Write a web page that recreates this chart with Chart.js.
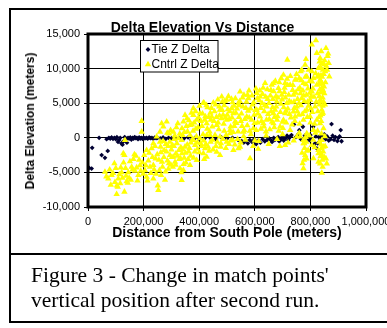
<!DOCTYPE html>
<html><head><meta charset="utf-8">
<script src="https://cdn.jsdelivr.net/npm/chart.js@4.4.0/dist/chart.umd.min.js"></script>
<style>
html,body{margin:0;padding:0;background:#fff;width:387px;height:328px;overflow:hidden;position:relative;}
#frame{position:absolute;left:9px;top:8px;width:400px;height:315px;border:2px solid #000;box-sizing:border-box;}
#divider{position:absolute;left:9px;top:253px;width:400px;height:2px;background:#000;}
#wrap{position:absolute;left:0;top:0;width:420px;height:254px;}
.t{position:absolute;font-family:"Liberation Sans",Arial,sans-serif;font-weight:bold;color:#000;line-height:1;white-space:nowrap;transform:translate(-50%,-50%);}
#title{left:202.5px;top:26.5px;font-size:14px;}
#xtitle{left:227px;top:232px;font-size:14px;}
#ytitle{left:30px;top:120.5px;font-size:12px;transform:translate(-50%,-50%) rotate(-90deg);}
.cap{position:absolute;left:31px;font-family:"Liberation Serif","Times New Roman",serif;font-size:21.5px;line-height:25px;white-space:nowrap;color:#000;}
</style></head><body>
<div id="frame"></div><div id="divider"></div>
<div id="wrap"><canvas id="c" width="420" height="254"></canvas></div>
<div class="t" id="title">Delta Elevation Vs Distance</div>
<div class="t" id="xtitle">Distance from South Pole (meters)</div>
<div class="t" id="ytitle">Delta Elevation (meters)</div>
<div class="cap" style="top:263px">Figure 3 - Change in match points'</div>
<div class="cap" style="top:288px">vertical position after second run.</div>
<script>
const seriesNames = ['Tie Z Delta', 'Cntrl Z Delta'];
const xMin = 0, xMax = 1000000, xStep = 200000;
const yMin = -10000, yMax = 15000, yStep = 5000;

const tieX = [4000,13000,15000,40000,49000,61000,71000,67000,75000,80000,85000,90000,95000,100000,104000,108000,112000,116000,120000,124000,128000,132000,136000,140000,144000,148000,152000,156000,160000,164000,168000,172000,176000,180000,184000,188000,192000,196000,200000,205000,210000,215000,220000,225000,230000,235000,240000,245000,250000,260000,270000,280000,290000,300000,315000,330000,345000,360000,372000,385000,400000,420000,440000,460000,480000,500000,520000,540000,553000,560000,568000,575000,582000,590000,598000,605000,612000,620000,628000,636000,644000,652000,660000,662000,668000,672000,676000,684000,688000,692000,696000,700000,704000,708000,712000,716000,720000,724000,728000,732000,741000,748000,756000,760000,766000,773000,780000,788000,796000,800000,805000,810000,811000,817000,820000,823000,826000,830000,835000,840000,845000,850000,855000,860000,866000,873000,876000,880000,885000,890000,897000,901000,905000,909000,912000];
const tieY = [-4350,-4450,-1450,0,-2500,-2900,-1900,-200,0,-100,50,-150,0,-200,80,-600,-300,0,-800,-1000,-500,100,-200,-700,0,-100,50,-250,0,-100,100,-50,0,-200,50,-100,0,-150,30,-80,0,-120,40,-60,0,-150,20,-50,0,-100,50,-150,0,-80,-200,0,-100,50,-300,0,-150,-50,0,-200,50,-100,0,-300,-500,-700,-400,-800,-300,-600,-200,-900,-400,-700,-200,-500,-300,-100,-400,-600,0,-300,-200,100,-500,-300,-100,200,-400,-100,100,300,-300,0,200,400,1940,100,500,1100,-200,1600,300,-100,-330,400,-200,1600,-1060,-800,200,-1540,-800,100,-300,300,0,500,-200,200,-400,-200,1990,300,-300,100,-480,0,200,1120,-500];

const cntrlX = [61000,66000,73000,85000,95000,97000,103000,107000,109000,121000,127000,131000,131000,133000,139000,143000,145000,157000,167000,169000,172000,181000,187000,193000,193000,199000,205000,211000,211000,217000,223000,229000,235000,235000,235000,243000,247000,251000,253000,255000,259000,259000,262000,263000,265000,268000,271000,274000,277000,280000,283000,286000,289000,292000,295000,298000,300000,303000,307000,307000,310000,313000,316000,318000,323000,325000,328000,331000,334000,337000,337000,338000,338000,340000,343000,343000,346000,349000,349000,352000,356000,358000,362000,367000,367000,367000,370000,374000,379000,379000,379000,380000,385000,388000,391000,391000,394000,398000,403000,403000,405000,410000,415000,415000,418000,418000,421000,422000,427000,427000,427000,430000,436000,439000,440000,442000,445000,448000,451000,455000,460000,463000,463000,468000,472000,475000,475000,475000,478000,481000,484000,486000,490000,490000,496000,499000,499000,499000,503000,508000,511000,511000,514000,517000,520000,520000,523000,523000,526000,529000,532000,538000,541000,541000,544000,547000,547000,550000,556000,559000,560000,562000,568000,571000,574000,577000,580000,583000,586000,592000,595000,598000,600000,604000,607000,607000,610000,612000,616000,619000,619000,622000,628000,631000,634000,637000,640000,641000,643000,646000,650000,652000,658000,661000,664000,667000,667000,667000,670000,673000,676000,679000,680000,682000,685000,688000,690000,691000,694000,697000,700000,700000,703000,703000,706000,709000,709000,709000,712000,715000,717000,718000,720000,724000,727000,727000,730000,736000,739000,739000,740000,742000,745000,745000,748000,751000,751000,754000,758000,760000,760000,762000,763000,765000,766000,769000,769000,775000,775000,775000,775000,775000,776000,777000,779000,780000,781000,781000,783000,784000,784000,785000,787000,787000,787000,787000,790000,792000,794000,796000,798000,799000,799000,802000,805000,805000,805000,805000,806000,811000,811000,811000,817000,820000,823000,823000,823000,829000,829000,829000,829000,830000,831000,832000,833000,834000,835000,835000,835000,835000,835000,836000,836000,836000,837000,838000,838000,838000,839000,840000,840000,841000,841000,841000,841000,841000,841000,842000,843000,843000,844000,844000,845000,845000,846000,847000,847000,847000,848000,849000,850000,851000,853000,856000,859000,864000,868000,
78000,82000,90000,100000,104000,113000,116000,118000,124000,128000,135000,137000,148000,151000,154000,160000,163000,175000,178000,184000,190000,196000,202000,208000,214000,220000,226000,232000,238000,241000,245000,249000,257000,261000,266000,270000,273000,279000,282000,285000,288000,291000,294000,297000,302000,305000,309000,312000,315000,320000,322000,327000,330000,333000,336000,341000,344000,347000,351000,354000,357000,360000,
363000,365000,369000,372000,376000,378000,382000,384000,387000,390000,393000,396000,400000,401000,406000,408000,412000,414000,416000,420000,424000,426000,429000,432000,434000,437000,441000,444000,447000,450000,453000,457000,459000,462000,465000,467000,470000,473000,477000,480000,483000,485000,488000,492000,494000,497000,501000,505000,507000,510000,513000,516000,518000,522000,525000,528000,530000,534000,536000,540000,543000,546000,549000,552000,554000,557000,561000,564000,566000,570000,573000,576000,579000,582000,585000,588000,590000,594000,596000,599000,602000,605000,609000,611000,614000,618000,621000,624000,626000,630000,633000,636000,639000,642000,645000,648000,651000,654000,656000,659000,662000,665000,668000,671000,674000,677000,680000,683000,686000,689000,692000,695000,698000,701000,704000,707000,710000,713000,716000,719000,722000,725000,728000,731000,734000,737000,741000,744000,747000,750000,753000,756000,759000,761000,764000,767000,771000,773000,778000,782000,786000,789000,791000,793000,797000,800000,803000,807000,809000,813000,815000,819000,821000,825000,827000,826000,831000,833000,837000,839000,842000,845000,849000,852000,854000,857000,860000,862000,866000,826000,832000,837000,844000,850000,853000,852000,856000,770000,772000,778000,786000,810000,815000,818000];
const cntrlY = [-4930,-5600,-5900,-5400,-3700,-6400,-8160,-7100,-5900,-5000,-2260,-2500,-7800,-330,-6300,-6500,-5000,-4200,-2400,-4800,-2600,-5400,-4000,2420,870,-5200,-4700,-5650,-1780,-3300,-4200,-1540,-810,-5900,-3960,-3000,150,-6900,-7580,-3200,870,-580,-2100,-5400,2090,-4200,1600,-1780,-6100,-900,2320,-3300,-4500,600,-2500,-3900,-1700,-1060,870,-2750,-200,-3480,-2300,1500,2090,-90,-3100,-4440,-1400,-6130,-330,1360,-2260,400,2320,-4680,-2900,3290,-1300,-3600,2810,900,-2000,1840,390,-3960,-700,1900,3290,4260,-330,-2900,-1060,1300,2570,-3230,-1600,2900,3540,-90,-800,1700,5080,-2260,4990,-3100,-1540,3100,2090,390,-2750,4400,-1900,390,3600,2600,3050,-300,5080,3800,-1200,1840,-2030,2200,4500,4020,150,-2500,-800,5950,5220,3300,1000,4700,-1500,5470,2570,-580,4100,2700,640,1120,-400,4260,5100,-300,3540,-1780,1700,2320,3600,-200,4990,-1540,4700,6670,-1300,2400,5800,870,200,1100,4300,3050,6200,5710,2900,-2990,500,4800,1360,3300,-400,7100,6440,4020,2200,-1600,5400,5950,3050,1300,6300,2090,3800,7900,900,300,4500,5600,-900,2700,6900,7640,4400,3540,2090,7890,1500,4020,6000,5220,-200,3100,7160,8000,-1200,1600,4900,6190,2300,500,9100,2570,6600,7890,3540,-1060,3900,4990,11270,7600,-700,5300,7650,1120,2900,6900,3770,6190,-400,4300,8380,3050,8400,4500,150,5600,3300,8620,700,7200,150,9580,4700,5710,9820,7890,2570,-330,-810,-4440,6100,-3200,-1500,3800,10550,-2500,100,11370,7700,-600,8850,4020,640,-1900,5200,-1800,9800,300,6500,5470,3050,4200,9580,6680,-1060,13450,8100,8620,1120,-2990,4500,14080,12250,7650,2570,10070,-1780,-3480,-2260,9000,3000,6000,4800,7000,11520,8380,5470,2090,-3720,3200,10200,-2700,8200,9000,6600,-1000,2400,600,-1500,10790,7160,4020,-2500,-330,-5080,8800,7800,-3200,5800,4600,3600,9800,-2000,5220,1360,-1300,9200,7400,6400,11180,9580,12960,-3720,12150,8850,
-4600,-6800,-5100,-4400,-6900,-5300,-6600,-4300,-5800,-3600,-4400,-5500,-5800,-3400,-6100,-4600,-3100,-4300,-6200,-3200,-4800,-3600,-2500,-4000,-6200,-2200,-5100,-2800,-4600,-1200,-5200,-2400,-4700,-1300,-3500,-500,-2800,-4900,-2000,700,-1200,-3700,-600,1100,-2800,-4200,-1200,300,-3900,-800,-2600,-1800,600,-3000,-5000,-1700,-3800,800,-2200,1700,-1000,-3100,
2500,-1500,-2600,3600,-200,1000,2200,-2000,3800,200,-700,1500,-2100,4600,2400,-1200,3500,500,-400,2600,-900,4700,1300,-1300,3000,900,-600,4300,1600,-1700,2400,400,4800,3000,-600,5500,1200,3200,-1300,2800,4000,-200,2000,5300,2900,400,3300,6000,-900,3800,1600,5600,2900,800,4600,-1000,5700,2100,4200,900,3000,5300,-700,3500,1700,4500,6200,2700,-300,5200,1800,3900,6800,1000,4200,2600,6100,-1200,5100,2100,4000,1100,5700,3500,-500,6800,4300,2400,5000,7200,1600,4700,5900,2600,7000,3400,5000,1200,6100,3800,2300,5600,6700,3000,8200,4500,2600,5800,1000,6700,3700,8600,5500,1400,4400,7200,5800,2200,8500,4200,6200,3400,8900,5100,1900,7600,5200,2400,6500,9200,3800,7000,5000,2000,6400,8300,3400,6800,5300,8800,6200,3000,7100,4600,8200,2200,6000,3700,7100,5900,2000,9300,5200,8800,3800,6400,7800,11000,5200,12500,3400,6900,10600,4800,8000,10400,9800,11800,10800,1000,-600,-2200,-4200,-2800,-1200,200,-3000,-2200,-3700,-800,-3000,-300,-1400,700];

const toPoints = (xs, ys) => xs.map((x, i) => ({x: x, y: ys[i]}));

const frameAndLegend = {
  id: 'frameAndLegend',
  beforeDraw(chart) {
    const a = chart.chartArea, ctx = chart.ctx;
    ctx.save(); ctx.fillStyle = '#fff';
    ctx.fillRect(a.left, a.top, a.right - a.left, a.bottom - a.top);
    ctx.restore();
  },
  afterDraw(chart) {
    const a = chart.chartArea, ctx = chart.ctx;
    ctx.save();
    ctx.lineWidth = 3; ctx.strokeStyle = '#000';
    ctx.strokeRect(a.left, a.top, a.right - a.left, a.bottom - a.top);
    const lx = 140.5, ly = 40.5, lw = 77.5, lh = 31.5;
    ctx.fillStyle = '#fff'; ctx.fillRect(lx, ly, lw, lh);
    ctx.lineWidth = 1; ctx.strokeRect(lx, ly, lw, lh);
    const ds = chart.data.datasets;
    const rows = [ds[1], ds[0]];
    rows.forEach((d, i) => {
      const cy = ly + 9 + i * 15;
      ctx.fillStyle = d.backgroundColor;
      Chart.helpers.drawPoint(ctx, {pointStyle: d.pointStyle, radius: d.pointRadius, borderWidth: 0, rotation: 0}, lx + 7.5, cy);
      ctx.fillStyle = '#000';
      ctx.font = '12px "Liberation Sans", Arial, sans-serif';
      ctx.textBaseline = 'middle'; ctx.textAlign = 'left';
      ctx.fillText(d.label, lx + 11, cy + 0.5);
    });
    ctx.restore();
  }
};

const tickFont = {family: '"Liberation Sans", Arial, sans-serif', size: 11};
new Chart(document.getElementById('c'), {
  type: 'scatter',
  data: {
    datasets: [
      {label: seriesNames[1], data: toPoints(cntrlX, cntrlY), pointStyle: 'triangle', pointRadius: 3.7,
       backgroundColor: '#FFFF00', borderWidth: 0, order: 0},
      {label: seriesNames[0], data: toPoints(tieX, tieY), pointStyle: 'rectRot', pointRadius: 2.4,
       backgroundColor: '#000033', borderWidth: 0, order: 1}
    ]
  },
  options: {
    responsive: false, devicePixelRatio: 1, animation: false,
    layout: {padding: {left: 0, right: 54, top: 34, bottom: 0}},
    plugins: {legend: {display: false}, tooltip: {enabled: false}, title: {display: false}},
    scales: {
      x: {type: 'linear', min: xMin, max: xMax,
          afterFit(s) { s.height = 47; },
          ticks: {stepSize: xStep, color: '#000', font: tickFont, padding: 4, maxRotation: 0, autoSkip: false,
                  callback: v => v.toLocaleString('en-US')},
          grid: {color: '#000', lineWidth: 1, tickLength: 4, drawTicks: true},
          border: {display: false}},
      y: {type: 'linear', min: yMin, max: yMax,
          afterFit(s) { s.width = 88; },
          ticks: {stepSize: yStep, color: '#000', font: tickFont, padding: 4,
                  callback: v => v.toLocaleString('en-US')},
          grid: {color: '#000', lineWidth: 1, tickLength: 4, drawTicks: true},
          border: {display: false}}
    }
  },
  plugins: [frameAndLegend]
});
</script>
</body></html>
